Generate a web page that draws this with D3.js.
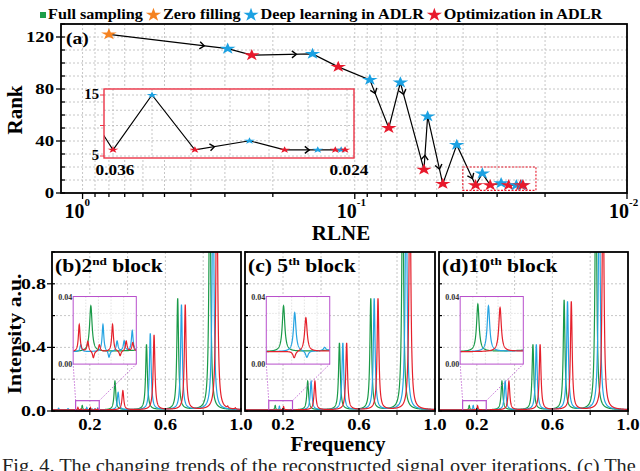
<!DOCTYPE html>
<html>
<head>
<meta charset="utf-8">
<script src="https://cdn.jsdelivr.net/npm/d3@7"></script>
<style>
  body { margin: 0; background: #fff; }
  text { font-family: "Liberation Serif", "Times New Roman", serif; }
</style>
</head>
<body>
<div id="chart"></div>
<script>
// ---------- data ----------
const legendLabels = ["Full sampling", "Zero filling", "Deep learning in ADLR", "Optimization in ADLR"];

// iteration path in panel (a): method index, RLNE, rank
const stepMethod = [1, 2, 3, 2, 3, 2, 3, 2, 3, 2, 3, 2, 3, 2, 3, 2, 3, 2, 3, 2, 3];
const stepRLNE   = [0.80, 0.293, 0.239, 0.143, 0.115, 0.088, 0.075, 0.068, 0.0557, 0.054, 0.0475,
                    0.0422, 0.036, 0.034, 0.0318, 0.029, 0.0272, 0.0255, 0.0246, 0.0243, 0.0241];
const stepRank   = [122, 111, 106, 107, 97, 87, 50, 85, 18, 59, 7, 37, 6, 15, 6, 7.5, 6, 6, 6, 6, 6];

const rankTicks = [0, 40, 80, 120];
const decadeTicks = [1, 0.1, 0.01];
const decadeExp = ["0", "-1", "-2"];
const insetRLNETicks = [0.036, 0.024];
const insetRankTicks = [5, 15];
const zoomRegionRLNE = [0.0401, 0.0216];
const zoomRegionRank = [2, 20];

// spectra: [frequency, height, half width] per peak
const b2Green = [[0.160, 0.027, 0.003], [0.333, 0.18, 0.0055], [0.500, 0.41, 0.0055], [0.665, 0.70, 0.0055], [0.835, 1.6, 0.0055]];
const b2Blue  = [[0.035, 0.010, 0.003], [0.085, 0.008, 0.003], [0.140, 0.004, 0.002], [0.184, 0.016, 0.002],
                 [0.196, -0.004, 0.002], [0.212, 0.006, 0.002], [0.226, 0.006, 0.002], [0.242, 0.012, 0.002],
                 [0.350, 0.11, 0.0055], [0.520, 0.48, 0.0055], [0.685, 0.66, 0.0055], [0.852, 1.6, 0.0055]];
const b2Red   = [[0.137, 0.016, 0.002], [0.154, 0.006, 0.002], [0.165, -0.004, 0.002], [0.177, 0.004, 0.002],
                 [0.203, 0.016, 0.002], [0.218, -0.003, 0.002], [0.230, 0.006, 0.002], [0.243, 0.005, 0.002],
                 [0.375, 0.12, 0.0055], [0.540, 0.47, 0.0055], [0.705, 0.66, 0.0055], [0.872, 1.6, 0.0055],
                 [0.930, 0.010, 0.003], [0.970, 0.008, 0.003]];
const b5Green = [[0.159, 0.027, 0.003], [0.330, 0.18, 0.0055], [0.497, 0.42, 0.0055], [0.662, 0.70, 0.0055], [0.830, 1.6, 0.0055]];
const b5Blue  = [[0.181, 0.023, 0.003], [0.205, -0.004, 0.003], [0.240, 0.002, 0.003], [0.348, 0.18, 0.0055],
                 [0.515, 0.42, 0.0055], [0.680, 0.70, 0.0055], [0.848, 1.6, 0.0055]];
const b5Red   = [[0.180, -0.004, 0.003], [0.203, 0.020, 0.003], [0.368, 0.18, 0.0055], [0.535, 0.42, 0.0055],
                 [0.700, 0.70, 0.0055], [0.868, 1.6, 0.0055]];
const b10Green = [[0.160, 0.028, 0.003], [0.333, 0.18, 0.0055], [0.497, 0.41, 0.0055], [0.662, 0.69, 0.0055], [0.830, 1.6, 0.0055]];
const b10Blue  = [[0.181, 0.027, 0.003], [0.350, 0.18, 0.0055], [0.515, 0.41, 0.0055], [0.680, 0.68, 0.0055], [0.848, 1.6, 0.0055]];
const b10Red   = [[0.204, 0.026, 0.003], [0.370, 0.18, 0.0055], [0.535, 0.41, 0.0055], [0.700, 0.68, 0.0055], [0.868, 1.6, 0.0055]];
const spectrumBaseline = 0.007;

const blockTag = ["(b)", "(c) ", "(d)"];
const blockNum = ["2", "5", "10"];
const blockSup = ["nd", "th", "th"];
const freqTicks = [0.2, 0.4, 0.6, 0.8, 1.0];
const freqLabelled = [0.2, 0.6, 1.0];
const intensityTicks = [0, 0.2, 0.4, 0.6, 0.8, 1.0];
const intensityLabelled = [0, 0.4, 0.8];
const zoomFreq = [0.125, 0.25];
const zoomIntensity = [0, 0.04];

const caption = "Fig. 4. The changing trends of the reconstructed signal over iterations. (c) The";

// ---------- styling ----------
const methodColors = ["#1e9e4a", "#f58220", "#1ba1e2", "#e8192c"];
const specColors = ["#1a9a48", "#26a4e2", "#e5202b"];
const gridColor = "#b8b8b8";
const magenta = "#b84fcc";

const svg = d3.select("#chart").append("svg")
  .attr("width", 640).attr("height", 471);

function txt(parent, x, y, s, size, o) {
  o = o || {};
  const t = parent.append("text")
    .attr("transform", "translate(" + x + "," + y + ")" + (o.rot ? " rotate(" + o.rot + ")" : "") + " scale(" + (o.sx || 1) + ",1)")
    .style("font-family", "'Liberation Serif', 'Times New Roman', serif")
    .attr("font-size", size)
    .attr("font-weight", o.weight || "bold")
    .attr("text-anchor", o.anchor || "start")
    .attr("fill", o.fill || "#000");
  if (s !== null) t.text(s);
  return t;
}

function chevron(g, x0, y0, x1, y1, t) {
  const x = x0 + (x1 - x0) * t, y = y0 + (y1 - y0) * t;
  const a = Math.atan2(y1 - y0, x1 - x0) * 180 / Math.PI;
  g.append("path")
    .attr("d", "M-3,-3.5L1.5,0L-3,3.5")
    .attr("transform", "translate(" + x + "," + y + ") rotate(" + a + ")")
    .attr("fill", "none").attr("stroke", "#000").attr("stroke-width", 1.4);
}

const star = d3.symbol().type(d3.symbolStar);

// ---------- legend ----------
const leg = svg.append("g");
let lx = 40;
legendLabels.forEach(function(lab, i) {
  if (i == 0) {
    leg.append("rect").attr("x", lx).attr("y", 12).attr("width", 6).attr("height", 6).attr("fill", methodColors[0]);
    lx += 8;
  } else {
    lx += 3;
    leg.append("path").attr("d", star.size(72)())
      .attr("transform", "translate(" + (lx + 7.5) + ",15) scale(1,0.9)")
      .attr("fill", methodColors[i]);
    lx += 17;
  }
  const t = txt(leg, lx, 19, lab, 15, { sx: 1.08 });
  lx += t.node().getComputedTextLength() * 1.08;
});

// ---------- panel (a) ----------
const X0 = 61, X1 = 627, Y0 = 24, Y1 = 193;
const tx = d3.scaleLog().domain([1.2, 0.01]).range([X0, X1]);
const ty = d3.scaleLinear().domain([0, 130]).range([Y1, Y0]);
const isDecade = d => Math.abs(Math.log10(d) - Math.round(Math.log10(d))) < 1e-6;
const ga = svg.append("g");

ga.selectAll(".vg").data(tx.ticks()).join("line")
  .attr("x1", d => tx(d)).attr("x2", d => tx(d)).attr("y1", Y0).attr("y2", Y1)
  .attr("stroke", gridColor).attr("stroke-width", 0.8).attr("stroke-dasharray", "2,2");
ga.selectAll(".hg").data(d3.range(10, 130, 10)).join("line")
  .attr("x1", X0).attr("x2", X1).attr("y1", d => ty(d)).attr("y2", d => ty(d))
  .attr("stroke", gridColor).attr("stroke-width", 0.8).attr("stroke-dasharray", "2,2");

// ticks
ga.selectAll(".xt").data(tx.ticks()).join("line")
  .attr("x1", d => tx(d)).attr("x2", d => tx(d))
  .attr("y1", Y1).attr("y2", d => Y1 + (isDecade(d) ? 6 : 4))
  .attr("stroke", "#000").attr("stroke-width", 1.3);
ga.selectAll(".yt").data(d3.range(0, 131, 10)).join("line")
  .attr("x1", d => rankTicks.indexOf(d) >= 0 ? X0 - 5 : X0).attr("x2", X0 + 4)
  .attr("y1", d => ty(d)).attr("y2", d => ty(d))
  .attr("stroke", "#000").attr("stroke-width", 1.3);

rankTicks.forEach(function(v) { txt(ga, X0 - 7, ty(v) + 5, String(v), 15, { anchor: "end", sx: 1.25 }); });
decadeTicks.forEach(function(v, i) {
  txt(ga, tx(v) + 2, 218, "10", 20, { anchor: "end" });
  txt(ga, tx(v) + 2, 206, decadeExp[i], 11, {});
});
txt(ga, 341, 240, "RLNE", 20, { anchor: "middle", sx: 1.05 });
txt(ga, 22, 110, "Rank", 20, { anchor: "middle", rot: -90, sx: 1.05 });

const steps = stepRLNE.map((r, i) => ({ r: r, k: stepRank[i], m: stepMethod[i] }));
ga.append("path").datum(steps)
  .attr("d", d3.line().x(d => tx(d.r)).y(d => ty(d.k)))
  .attr("fill", "none").attr("stroke", "#000").attr("stroke-width", 1.2);

// direction marks on the main path: [segment, fraction]
[[0, 0.79], [2, 0.71], [5, 0.25], [7, 0.12], [8, 0.24], [9, 0.76], [11, 0.8]].forEach(function(a) {
  const p = steps[a[0]], q = steps[a[0] + 1];
  chevron(ga, tx(p.r), ty(p.k), tx(q.r), ty(q.k), a[1]);
});

ga.append("rect")
  .attr("x", tx(zoomRegionRLNE[0])).attr("y", ty(zoomRegionRank[1]))
  .attr("width", tx(zoomRegionRLNE[1]) - tx(zoomRegionRLNE[0]))
  .attr("height", ty(zoomRegionRank[0]) - ty(zoomRegionRank[1]))
  .attr("fill", "none").attr("stroke", "#e8192c").attr("stroke-width", 1.1).attr("stroke-dasharray", "2,1.5");

ga.selectAll(".st").data(steps).join("path")
  .attr("d", star.size(66)())
  .attr("transform", d => "translate(" + tx(d.r) + "," + ty(d.k) + ") scale(1.08,0.8)")
  .attr("fill", d => methodColors[d.m]);

txt(ga, 66, 44, "(a)", 17, { sx: 1.15 });

// inset of panel (a)
const IX0 = 104, IX1 = 354, IY0 = 89, IY1 = 158;
const ix = d3.scaleLinear().domain(insetRLNETicks).range([113, 347]);
const iy = d3.scaleLinear().domain(insetRankTicks).range([156, 95]);
const gi = svg.append("g");
svg.append("clipPath").attr("id", "clipInset").append("rect")
  .attr("x", IX0).attr("y", IY0).attr("width", IX1 - IX0).attr("height", IY1 - IY0);
gi.append("rect").attr("x", IX0).attr("y", IY0).attr("width", IX1 - IX0).attr("height", IY1 - IY0).attr("fill", "#fff");
gi.selectAll(".ivg").data(d3.range(0, 7).map(i => 0.036 - 0.002 * i)).join("line")
  .attr("x1", d => ix(d)).attr("x2", d => ix(d)).attr("y1", IY0).attr("y2", IY1)
  .attr("stroke", gridColor).attr("stroke-width", 0.8).attr("stroke-dasharray", "2,2");
gi.selectAll(".ihg").data([5, 7.5, 10, 12.5, 15]).join("line")
  .attr("x1", IX0).attr("x2", IX1).attr("y1", d => iy(d)).attr("y2", d => iy(d))
  .attr("stroke", gridColor).attr("stroke-width", 0.8).attr("stroke-dasharray", "2,2");
const gic = gi.append("g").attr("clip-path", "url(#clipInset)");
gic.append("path").datum(steps)
  .attr("d", d3.line().x(d => ix(d.r)).y(d => iy(d.k)))
  .attr("fill", "none").attr("stroke", "#000").attr("stroke-width", 1.1);
[[14, 0.33], [16, 0.7]].forEach(function(a) {
  const p = steps[a[0]], q = steps[a[0] + 1];
  chevron(gic, ix(p.r), iy(p.k), ix(q.r), iy(q.k), a[1]);
});
gic.selectAll(".ist").data(steps).join("path")
  .attr("d", star.size(26)())
  .attr("transform", d => "translate(" + ix(d.r) + "," + iy(d.k) + ") scale(1.2,0.75)")
  .attr("fill", d => methodColors[d.m]);
gi.append("rect").attr("x", IX0).attr("y", IY0).attr("width", IX1 - IX0).attr("height", IY1 - IY0)
  .attr("fill", "none").attr("stroke", "#ec3447").attr("stroke-width", 1.4);
gi.selectAll(".iyt").data([5, 10, 15]).join("line")
  .attr("x1", IX0 - 4).attr("x2", IX0).attr("y1", d => iy(d)).attr("y2", d => iy(d))
  .attr("stroke", "#ec3447").attr("stroke-width", 1);
insetRankTicks.forEach(function(v) { txt(gi, IX0 - 5, iy(v) + 4, String(v), 14, { anchor: "end", sx: 1.05 }); });
insetRLNETicks.forEach(function(v) { txt(gi, ix(v) + 2, 175, String(v), 15, { anchor: "middle", sx: 1.15 }); });

ga.append("rect").attr("x", X0).attr("y", Y0).attr("width", X1 - X0).attr("height", Y1 - Y0)
  .attr("fill", "none").attr("stroke", "#000").attr("stroke-width", 1.8);

// ---------- panels (b)(c)(d) ----------
const PY0 = 252, PY1 = 411;
const panelRanges = [[52, 241], [245, 435], [439, 628]];
const panelSpectra = [[b2Green, b2Blue, b2Red], [b5Green, b5Blue, b5Red], [b10Green, b10Blue, b10Red]];
const py = d3.scaleLinear().domain([0, 1]).range([PY1, PY0]);

function intensity(peaks, f) {
  let s = spectrumBaseline;
  peaks.forEach(function(p) { s += p[1] * p[2] * p[2] / ((f - p[0]) * (f - p[0]) + p[2] * p[2]); });
  return s;
}
const fullGrid = d3.range(0, 2001).map(i => i / 2000);
const zoomGrid = d3.range(0, 501).map(i => zoomFreq[0] + (zoomFreq[1] - zoomFreq[0]) * i / 500);

panelSpectra.forEach(function(spectra, pi) {
  const px = d3.scaleLinear().domain([0, 1]).range(panelRanges[pi]);
  const g = svg.append("g");
  const L = panelRanges[pi][0], R = panelRanges[pi][1];
  svg.append("clipPath").attr("id", "clipP" + pi).append("rect")
    .attr("x", L).attr("y", PY0).attr("width", R - L).attr("height", PY1 - PY0);

  g.selectAll(".vg").data([0.2, 0.4, 0.6, 0.8]).join("line")
    .attr("x1", d => px(d)).attr("x2", d => px(d)).attr("y1", PY0).attr("y2", PY1)
    .attr("stroke", gridColor).attr("stroke-width", 0.8).attr("stroke-dasharray", "2,2");
  g.selectAll(".hg").data([0.2, 0.4, 0.6, 0.8]).join("line")
    .attr("x1", L).attr("x2", R).attr("y1", d => py(d)).attr("y2", d => py(d))
    .attr("stroke", gridColor).attr("stroke-width", 0.8).attr("stroke-dasharray", "2,2");

  const gc = g.append("g").attr("clip-path", "url(#clipP" + pi + ")");
  spectra.forEach(function(peaks, si) {
    gc.append("path").datum(fullGrid)
      .attr("d", d3.line().x(f => px(f)).y(f => py(intensity(peaks, f))))
      .attr("fill", "none").attr("stroke", specColors[si]).attr("stroke-width", 1.2);
  });

  // zoom box and inset
  const bx0 = px(zoomFreq[0]), bx1 = px(zoomFreq[1]), by0 = py(0), by1 = py(0.065);
  const ix0 = px(0.112), ix1 = px(0.446), iy0 = py(0.72), iy1 = py(0.295);
  g.append("line").attr("x1", bx0).attr("y1", by1).attr("x2", ix0).attr("y2", iy1)
    .attr("stroke", magenta).attr("stroke-width", 0.8).attr("stroke-dasharray", "1.5,1.5");
  g.append("line").attr("x1", bx1).attr("y1", by1).attr("x2", ix1).attr("y2", iy1)
    .attr("stroke", magenta).attr("stroke-width", 0.8).attr("stroke-dasharray", "1.5,1.5");
  g.append("rect").attr("x", bx0).attr("y", by1).attr("width", bx1 - bx0).attr("height", by0 - by1)
    .attr("fill", "none").attr("stroke", magenta).attr("stroke-width", 1.2);

  const zx = d3.scaleLinear().domain(zoomFreq).range([ix0, ix1]);
  const zy = d3.scaleLinear().domain(zoomIntensity).range([iy1, iy0]);
  svg.append("clipPath").attr("id", "clipZ" + pi).append("rect")
    .attr("x", ix0).attr("y", iy0).attr("width", ix1 - ix0).attr("height", iy1 - iy0);
  g.append("rect").attr("x", ix0).attr("y", iy0).attr("width", ix1 - ix0).attr("height", iy1 - iy0).attr("fill", "#fff");
  g.selectAll(".zvg").data([0.15, 0.175, 0.2, 0.225]).join("line")
    .attr("x1", d => zx(d)).attr("x2", d => zx(d)).attr("y1", iy0).attr("y2", iy1)
    .attr("stroke", "#d0d0d0").attr("stroke-width", 0.6).attr("stroke-dasharray", "1.5,1.5");
  g.selectAll(".zhg").data([0.01, 0.02, 0.03]).join("line")
    .attr("x1", ix0).attr("x2", ix1).attr("y1", d => zy(d)).attr("y2", d => zy(d))
    .attr("stroke", "#d0d0d0").attr("stroke-width", 0.6).attr("stroke-dasharray", "1.5,1.5");
  const gz = g.append("g").attr("clip-path", "url(#clipZ" + pi + ")");
  spectra.forEach(function(peaks, si) {
    gz.append("path").datum(zoomGrid)
      .attr("d", d3.line().x(f => zx(f)).y(f => zy(intensity(peaks, f))))
      .attr("fill", "none").attr("stroke", specColors[si]).attr("stroke-width", 1.2);
  });
  g.append("rect").attr("x", ix0).attr("y", iy0).attr("width", ix1 - ix0).attr("height", iy1 - iy0)
    .attr("fill", "none").attr("stroke", magenta).attr("stroke-width", 1);
  txt(g, ix0 - 1, iy0 + 3, zoomIntensity[1].toFixed(2), 8, { anchor: "end", fill: "#333" });
  txt(g, ix0 - 1, iy1 + 3, zoomIntensity[0].toFixed(2), 8, { anchor: "end", fill: "#333" });

  // axes ticks
  g.selectAll(".xt").data(freqTicks).join("line")
    .attr("x1", d => px(d)).attr("x2", d => px(d))
    .attr("y1", d => freqLabelled.indexOf(d) >= 0 ? PY1 - 3 : PY1).attr("y2", PY1 + 4)
    .attr("stroke", "#000").attr("stroke-width", 1.2);
  g.selectAll(".yt").data(intensityTicks).join("line")
    .attr("x1", d => (pi == 0 && intensityLabelled.indexOf(d) >= 0) ? L - 5 : L).attr("x2", L + 3)
    .attr("y1", d => py(d)).attr("y2", d => py(d))
    .attr("stroke", "#000").attr("stroke-width", 1.2);
  freqLabelled.forEach(function(v) { txt(g, px(v), 430, v.toFixed(1), 17, { anchor: "middle", sx: 1.1 }); });
  if (pi == 0) {
    intensityLabelled.forEach(function(v) { txt(g, L - 6, py(v) + 5, v.toFixed(1), 15, { anchor: "end", sx: 1.33 }); });
  }

  g.append("rect").attr("x", L).attr("y", PY0).attr("width", R - L).attr("height", PY1 - PY0)
    .attr("fill", "none").attr("stroke", "#000").attr("stroke-width", 1.8);

  const title = txt(g, L + 3, 272, null, 18, { sx: 1.2 });
  title.append("tspan").text(blockTag[pi] + blockNum[pi]);
  title.append("tspan").attr("font-size", 11).attr("dy", -7).text(blockSup[pi]);
  title.append("tspan").attr("dy", 7).text(" block");
});

txt(svg, 21, 334, "Intensity a.u.", 18, { anchor: "middle", rot: -90, sx: 1.2 });
txt(svg, 338, 451, "Frequency", 20, { anchor: "middle", sx: 1.05 });

// caption (cropped by the bottom edge, as in the figure)
const cap = txt(svg, 2, 472, caption, 18, { weight: "normal", fill: "#222" });
const capW = cap.node().getComputedTextLength();
cap.attr("transform", "translate(2,472) scale(" + (634 / capW) + ",1)");
</script>
</body>
</html>
